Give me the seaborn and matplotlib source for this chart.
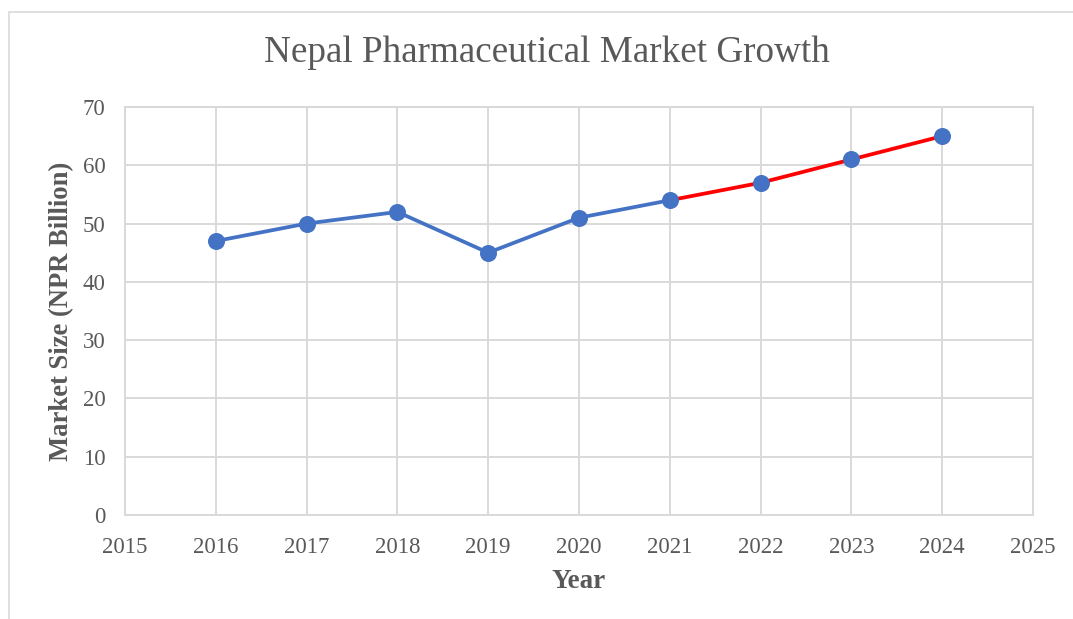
import matplotlib
matplotlib.use("Agg")
import matplotlib.pyplot as plt
import matplotlib.patches as mpatches
import seaborn as sns
import pandas as pd

# Market size by year (NPR billion)
years = [2016, 2017, 2018, 2019, 2020, 2021, 2022, 2023, 2024]
market_size = [47, 50, 52, 45, 51, 54, 57, 61, 65]
projection_start = 2021

x_ticks = [2015, 2016, 2017, 2018, 2019, 2020, 2021, 2022, 2023, 2024, 2025]
y_ticks = [0, 10, 20, 30, 40, 50, 60, 70]

title_text = "Nepal Pharmaceutical Market Growth"
x_label = "Year"
y_label = "Market Size (NPR Billion)"

df = pd.DataFrame({"Year": years, "Size": market_size})
actual = df[df["Year"] <= projection_start]
projected = df[df["Year"] >= projection_start]

sns.set_theme(style="whitegrid")
plt.rcParams["font.family"] = ["Liberation Serif", "DejaVu Serif"]

text_color = "#595959"
grid_color = "#D9D9D9"
blue = "#4472C4"
red = "#FF0000"

fig = plt.figure(figsize=(10.73, 6.19), dpi=100)
ax = fig.add_axes([125 / 1073, 1 - 515 / 619, (1033 - 125) / 1073, (515 - 107) / 619])

sns.lineplot(data=actual, x="Year", y="Size", ax=ax, color=blue, linewidth=2.7, zorder=3)
sns.lineplot(data=projected, x="Year", y="Size", ax=ax, color=red, linewidth=2.7, zorder=3)
sns.scatterplot(data=df, x="Year", y="Size", ax=ax, color=blue, s=150,
                edgecolor=blue, linewidth=0, zorder=4)

ax.set_xlim(x_ticks[0], x_ticks[-1])
ax.set_ylim(y_ticks[0], y_ticks[-1])
ax.set_xticks(x_ticks)
ax.set_yticks(y_ticks)
ax.set_xticklabels([str(v) for v in x_ticks])
ax.set_yticklabels([str(v) for v in y_ticks])

ax.grid(True, color=grid_color, linewidth=1.4)
for s in ax.spines.values():
    s.set_color(grid_color)
    s.set_linewidth(1.4)
ax.tick_params(axis="both", length=0, labelsize=16.5, labelcolor=text_color)
ax.tick_params(axis="x", pad=16)
ax.tick_params(axis="y", pad=14)

ax.set_xlabel(x_label, fontsize=19.5, fontweight="bold", color=text_color, labelpad=8)
ax.set_ylabel(y_label, fontsize=19.2, fontweight="bold", color=text_color, labelpad=6)

fig.text(547 / 1073, 1 - 53 / 619, title_text, ha="center", va="center",
         fontsize=26.7, color=text_color)

# light outer frame of the chart area
frame = mpatches.Rectangle((8.5 / 1073, -0.05), 1.2, 1 - 11.5 / 619 + 0.05,
                           transform=fig.transFigure, fill=False,
                           edgecolor="#D9D9D9", linewidth=1.2, clip_on=False)
fig.patches.append(frame)

fig.savefig("out.png", dpi=100)
